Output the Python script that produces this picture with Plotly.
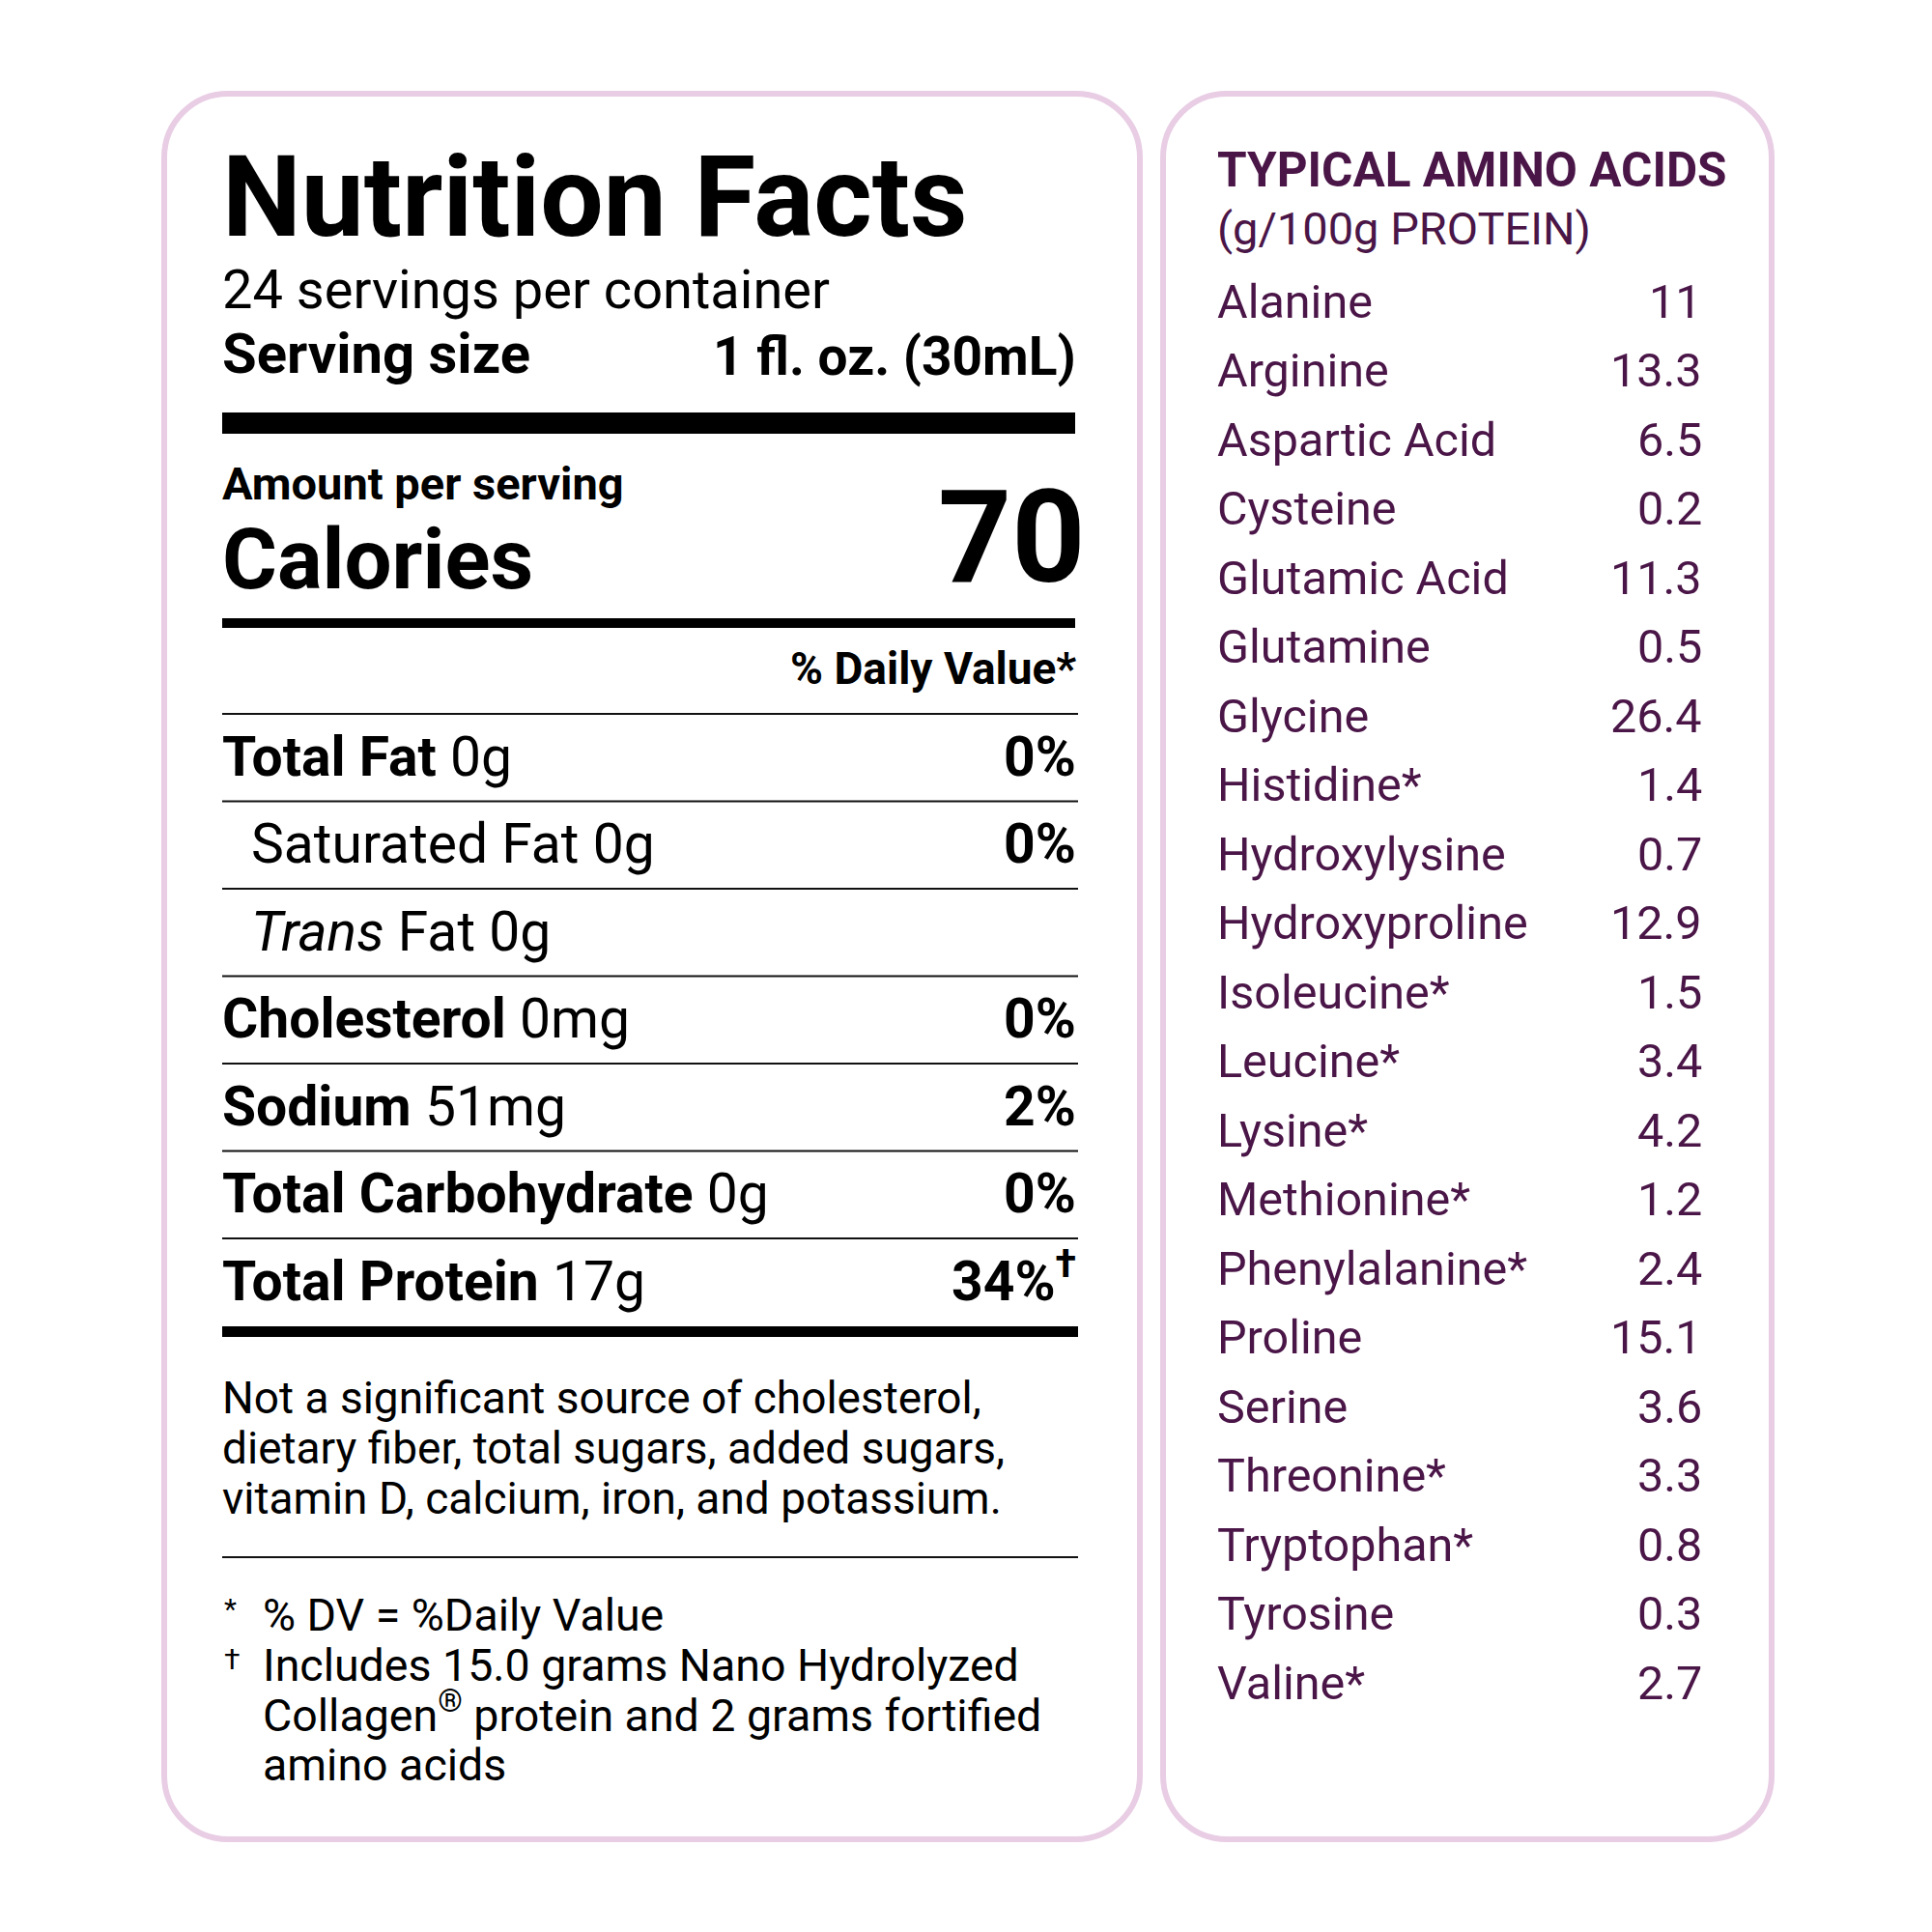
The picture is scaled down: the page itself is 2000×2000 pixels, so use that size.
import plotly.graph_objects as go

# Label data
title = "Nutrition Facts"
servings = "24 servings per container"
serving_size = "1 fl. oz. (30mL)"
calories = "70"

nutrient_names = ["Total Fat", "Saturated Fat", "<i>Trans</i> Fat", "Cholesterol",
                  "Sodium", "Total Carbohydrate", "Total Protein"]
nutrient_amounts = ["0g", "0g", "0g", "0mg", "51mg", "0g", "17g"]
nutrient_dv = ["0%", "0%", "", "0%", "2%", "0%", "34%<sup>†</sup>"]
nutrient_sub = [False, True, True, False, False, False, False]

note_lines = ["Not a significant source of cholesterol,",
              "dietary fiber, total sugars, added sugars,",
              "vitamin D, calcium, iron, and potassium."]
foot_marks = ["*", "†", "", ""]
foot_lines = ["% DV = %Daily Value",
              "Includes 15.0 grams Nano Hydrolyzed",
              "Collagen<sup>®</sup> protein and 2 grams fortified",
              "amino acids"]

amino_names = ["Alanine", "Arginine", "Aspartic Acid", "Cysteine", "Glutamic Acid",
               "Glutamine", "Glycine", "Histidine*", "Hydroxylysine", "Hydroxyproline",
               "Isoleucine*", "Leucine*", "Lysine*", "Methionine*", "Phenylalanine*",
               "Proline", "Serine", "Threonine*", "Tryptophan*", "Tyrosine", "Valine*"]
amino_values = [11, 13.3, 6.5, 0.2, 11.3, 0.5, 26.4, 1.4, 0.7, 12.9, 1.5,
                 3.4, 4.2, 1.2, 2.4, 15.1, 3.6, 3.3, 0.8, 0.3, 2.7]

FONT = "Roboto"
PURPLE = "#4a1547"
BORDER = "#e8cde4"

fig = go.Figure()


def label(x, baseline, text, size, anchor="left", color="black"):
    # place text by its baseline (Roboto descent ~0.244em)
    fig.add_annotation(x=x, y=baseline + 0.244 * size + 2, text=text, showarrow=False,
                       xanchor=anchor, yanchor="bottom", xref="x", yref="y",
                       font=dict(family=FONT, size=size, color=color))


def rounded(x0, y0, x1, y1, r):
    k = 0.552 * r
    return (f"M{x0 + r},{y0} L{x1 - r},{y0} C{x1 - r + k},{y0} {x1},{y0 + r - k} {x1},{y0 + r} "
            f"L{x1},{y1 - r} C{x1},{y1 - r + k} {x1 - r + k},{y1} {x1 - r},{y1} "
            f"L{x0 + r},{y1} C{x0 + r - k},{y1} {x0},{y1 - r + k} {x0},{y1 - r} "
            f"L{x0},{y0 + r} C{x0},{y0 + r - k} {x0 + r - k},{y0} {x0 + r},{y0} Z")


# panels
for x0, x1 in [(170, 1180), (1204, 1834)]:
    fig.add_shape(type="path", path=rounded(x0, 97, x1, 1904, 66),
                  line=dict(color=BORDER, width=6), fillcolor="white", layer="below")

L, R = 228, 1116

# header
label(L, 244, "<b>" + title + "</b>", 116)
label(L, 319, servings, 56)
label(L, 386, "<b>Serving size</b>", 58)
label(R, 388, "<b>" + serving_size + "</b>", 55, "right")
fig.add_shape(type="rect", x0=230, x1=1113, y0=427, y1=449, fillcolor="black", line_width=0)
label(L, 517, "<b>Amount per serving</b>", 47)
label(L, 609, "<b>Calories</b>", 87)
label(1126, 602, "<b>" + calories + "</b>", 133, "right")
fig.add_shape(type="rect", x0=230, x1=1113, y0=640, y1=650, fillcolor="black", line_width=0)
label(R, 708, "<b>% Daily Value*</b>", 46, "right")

# nutrient rows
row_top, row_h = 739, 90.5
for i, name in enumerate(nutrient_names):
    top = row_top + i * row_h
    fig.add_shape(type="line", x0=230, x1=1116, y0=top, y1=top,
                  line=dict(color="#111", width=2))
    base = top + 64
    if nutrient_sub[i]:
        label(L + 30, base, name + " " + nutrient_amounts[i], 57)
    else:
        label(L, base, "<b>" + name + "</b> " + nutrient_amounts[i], 57)
    if nutrient_dv[i]:
        label(R, base, "<b>" + nutrient_dv[i] + "</b>", 57, "right")
fig.add_shape(type="rect", x0=230, x1=1116, y0=1373, y1=1384, fillcolor="black", line_width=0)

# notes
for i, line in enumerate(note_lines):
    label(L, 1463 + i * 52, line, 46)
fig.add_shape(type="line", x0=230, x1=1116, y0=1612, y1=1612,
              line=dict(color="#111", width=2))
for i, line in enumerate(foot_lines):
    base = 1688 + i * 51.7
    if foot_marks[i]:
        label(L + 2, base - 12, foot_marks[i], 30)
    label(L + 42, base, line, 46.5)

# amino acids panel
AL, AR = 1258, 1764
label(AL, 193, "<b>TYPICAL AMINO ACIDS</b>", 49.5, color=PURPLE)
label(AL, 253, "(g/100g PROTEIN)", 47, color=PURPLE)
for i, (name, val) in enumerate(zip(amino_names, amino_values)):
    base = 329 + i * 71.5
    label(AL, base, name, 48.5, color=PURPLE)
    label(AR, base, str(val), 48.5, "right", color=PURPLE)

# the page body adds an 8px margin, so the ranges are offset by 8
fig.update_layout(width=2000, height=2000, margin=dict(l=0, r=0, t=0, b=0),
                  paper_bgcolor="white", plot_bgcolor="white", showlegend=False,
                  xaxis=dict(range=[8, 2008], visible=False, fixedrange=True),
                  yaxis=dict(range=[2008, 8], visible=False, fixedrange=True))

fig.write_html("out.html")
